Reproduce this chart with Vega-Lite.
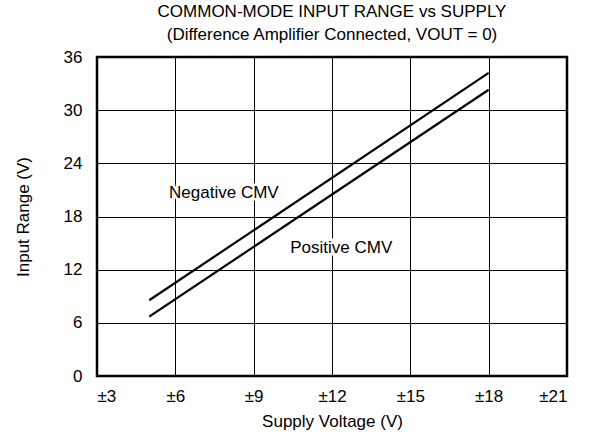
{
  "$schema": "https://vega.github.io/schema/vega-lite/v6.json",
  "width": 470,
  "height": 319,
  "padding": {"left": 14, "top": 3, "right": 5, "bottom": 5},
  "background": "white",
  "config": {
    "font": "Liberation Sans",
    "view": {"stroke": "black", "strokeWidth": 2.5},
    "axis": {
      "grid": true,
      "gridColor": "black",
      "gridWidth": 1,
      "gridOpacity": 1,
      "ticks": false,
      "domain": false,
      "labelFontSize": 17,
      "labelColor": "black",
      "titleFontSize": 17,
      "titleFontWeight": "normal",
      "titleColor": "black"
    }
  },
  "title": {
    "text": "COMMON-MODE INPUT RANGE vs SUPPLY",
    "subtitle": "(Difference Amplifier Connected, VOUT = 0)",
    "fontSize": 17,
    "fontWeight": "normal",
    "subtitleFontSize": 17,
    "color": "black",
    "subtitleColor": "black",
    "anchor": "middle",
    "offset": 4,
    "subtitlePadding": 6
  },
  "layer": [
    {
      "data": {
        "values": [
          {"supply": 5, "range": 8.55, "series": "Negative CMV"},
          {"supply": 18, "range": 34.2, "series": "Negative CMV"},
          {"supply": 5, "range": 6.7, "series": "Positive CMV"},
          {"supply": 18, "range": 32.3, "series": "Positive CMV"}
        ]
      },
      "mark": {"type": "line", "color": "black", "strokeWidth": 2.2},
      "encoding": {
        "x": {
          "field": "supply",
          "type": "quantitative",
          "scale": {"domain": [3, 21], "nice": false},
          "axis": {"values": [3, 6, 9, 12, 15, 18, 21], "labelExpr": "'±' + datum.value", "title": "Supply Voltage (V)", "labelPadding": 12, "titlePadding": 9}
        },
        "y": {
          "field": "range",
          "type": "quantitative",
          "scale": {"domain": [0, 36], "nice": false},
          "axis": {"values": [0, 6, 12, 18, 24, 30, 36], "title": "Input Range (V)", "labelPadding": 15, "titlePadding": 31}
        },
        "detail": {"field": "series"}
      }
    },
    {
      "data": {
        "values": [
          {"supply": 5.76, "range": 20.1, "label": "Negative CMV"},
          {"supply": 10.4, "range": 13.9, "label": "Positive CMV"}
        ]
      },
      "mark": {"type": "text", "align": "left", "baseline": "alphabetic", "fontSize": 17, "color": "white", "stroke": "white", "strokeWidth": 5},
      "encoding": {
        "x": {"field": "supply", "type": "quantitative"},
        "y": {"field": "range", "type": "quantitative"},
        "text": {"field": "label"}
      }
    },
    {
      "data": {
        "values": [
          {"supply": 5.76, "range": 20.1, "label": "Negative CMV"},
          {"supply": 10.4, "range": 13.9, "label": "Positive CMV"}
        ]
      },
      "mark": {"type": "text", "align": "left", "baseline": "alphabetic", "fontSize": 17, "color": "black"},
      "encoding": {
        "x": {"field": "supply", "type": "quantitative"},
        "y": {"field": "range", "type": "quantitative"},
        "text": {"field": "label"}
      }
    }
  ]
}
